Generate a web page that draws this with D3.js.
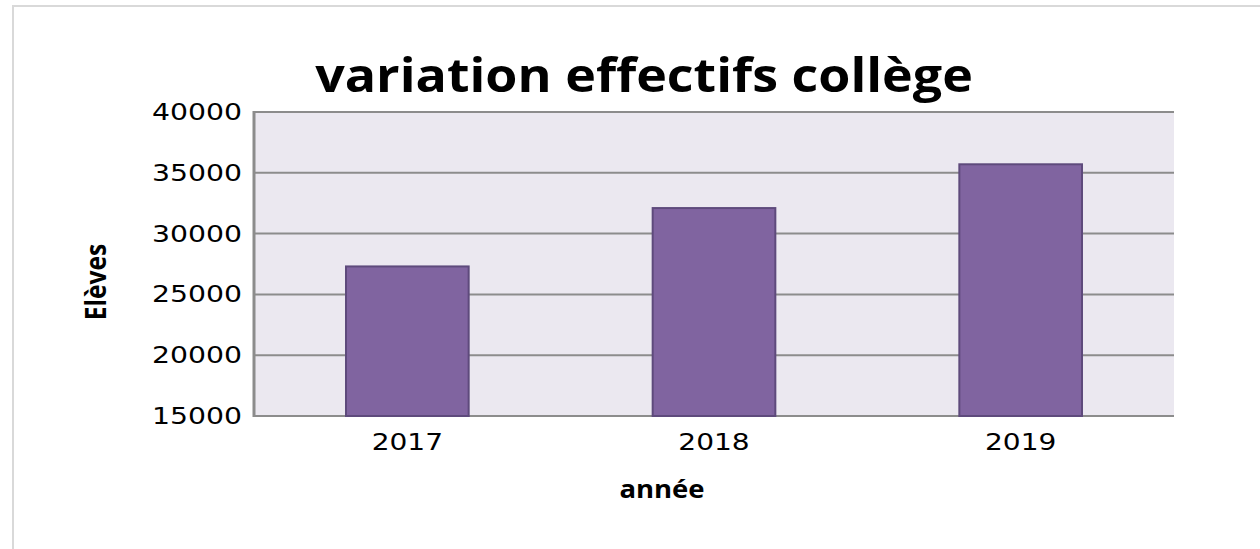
<!DOCTYPE html>
<html>
<head>
<meta charset="utf-8">
<script src="https://cdn.jsdelivr.net/npm/d3@7"></script>
<style>
  body { margin: 0; background: #fff; }
  text { fill: #000; }
</style>
</head>
<body>
<script>
// chart data
var years = ["2017", "2018", "2019"];
var eleves = [27300, 32100, 35700];
var yTicks = [15000, 20000, 25000, 30000, 35000, 40000];

var width = 1260;
var height = 549;
var plot = {left: 254, top: 112, right: 1174, bottom: 416};

var svg = d3.select("body").append("svg")
  .attr("width", width)
  .attr("height", height);

// outer frame
svg.append("rect")
  .attr("x", 13).attr("y", 6)
  .attr("width", 1300).attr("height", 600)
  .attr("fill", "#fff")
  .attr("stroke", "#d9d9d9")
  .attr("stroke-width", 2);

var x = d3.scaleBand().domain(years)
  .range([plot.left, plot.right])
  .paddingInner(0.6).paddingOuter(0.3);

var y = d3.scaleLinear().domain([15000, 40000])
  .range([plot.bottom, plot.top]);

// plot background
svg.append("rect")
  .attr("x", plot.left).attr("y", plot.top)
  .attr("width", plot.right - plot.left)
  .attr("height", plot.bottom - plot.top)
  .attr("fill", "#ebe8f0");

// gridlines
svg.selectAll("line.grid").data(yTicks).enter().append("line")
  .attr("class", "grid")
  .attr("x1", plot.left).attr("x2", plot.right)
  .attr("y1", function(d){ return y(d); })
  .attr("y2", function(d){ return y(d); })
  .attr("stroke", "#8c8c8c")
  .attr("stroke-width", 2);

// bars
svg.selectAll("rect.bar").data(eleves).enter().append("rect")
  .attr("class", "bar")
  .attr("x", function(d, i){ return x(years[i]); })
  .attr("y", function(d){ return y(d); })
  .attr("width", x.bandwidth())
  .attr("height", function(d){ return y(15000) - y(d); })
  .attr("fill", "#8064a0")
  .attr("stroke", "#5e4a7c")
  .attr("stroke-width", 2);

// left axis line
svg.append("line")
  .attr("x1", plot.left).attr("x2", plot.left)
  .attr("y1", plot.top - 1).attr("y2", plot.bottom + 1)
  .attr("stroke", "#8c8c8c")
  .attr("stroke-width", 3);

// y tick labels
svg.selectAll("text.ytick").data(yTicks).enter().append("text")
  .attr("class", "ytick")
  .attr("transform", function(d){ return "translate(242," + (y(d) + 8) + ") scale(1.23,1)"; })
  .attr("text-anchor", "end")
  .style("font-family", "DejaVu Sans")
  .style("font-size", "23px")
  .text(function(d){ return d; });

// x tick labels
svg.selectAll("text.xtick").data(years).enter().append("text")
  .attr("class", "xtick")
  .attr("transform", function(d){ return "translate(" + (x(d) + x.bandwidth() / 2) + ",450) scale(1.22,1)"; })
  .attr("text-anchor", "middle")
  .style("font-family", "DejaVu Sans")
  .style("font-size", "23px")
  .text(function(d){ return d; });

// title
svg.append("text")
  .attr("transform", "translate(644,92) scale(1.13,1)")
  .attr("text-anchor", "middle")
  .style("font-family", "Open Sans")
  .style("font-weight", "bold")
  .style("font-size", "46px")
  .text("variation effectifs collège");

// axis titles
svg.append("text")
  .attr("transform", "translate(106,282) rotate(-90) scale(0.88,1)")
  .attr("text-anchor", "middle")
  .style("font-family", "Open Sans")
  .style("font-weight", "bold")
  .style("font-size", "28px")
  .text("Elèves");

svg.append("text")
  .attr("transform", "translate(662,498) scale(1.1,1)")
  .attr("text-anchor", "middle")
  .style("font-family", "Open Sans")
  .style("font-weight", "bold")
  .style("font-size", "25px")
  .text("année");
</script>
</body>
</html>
